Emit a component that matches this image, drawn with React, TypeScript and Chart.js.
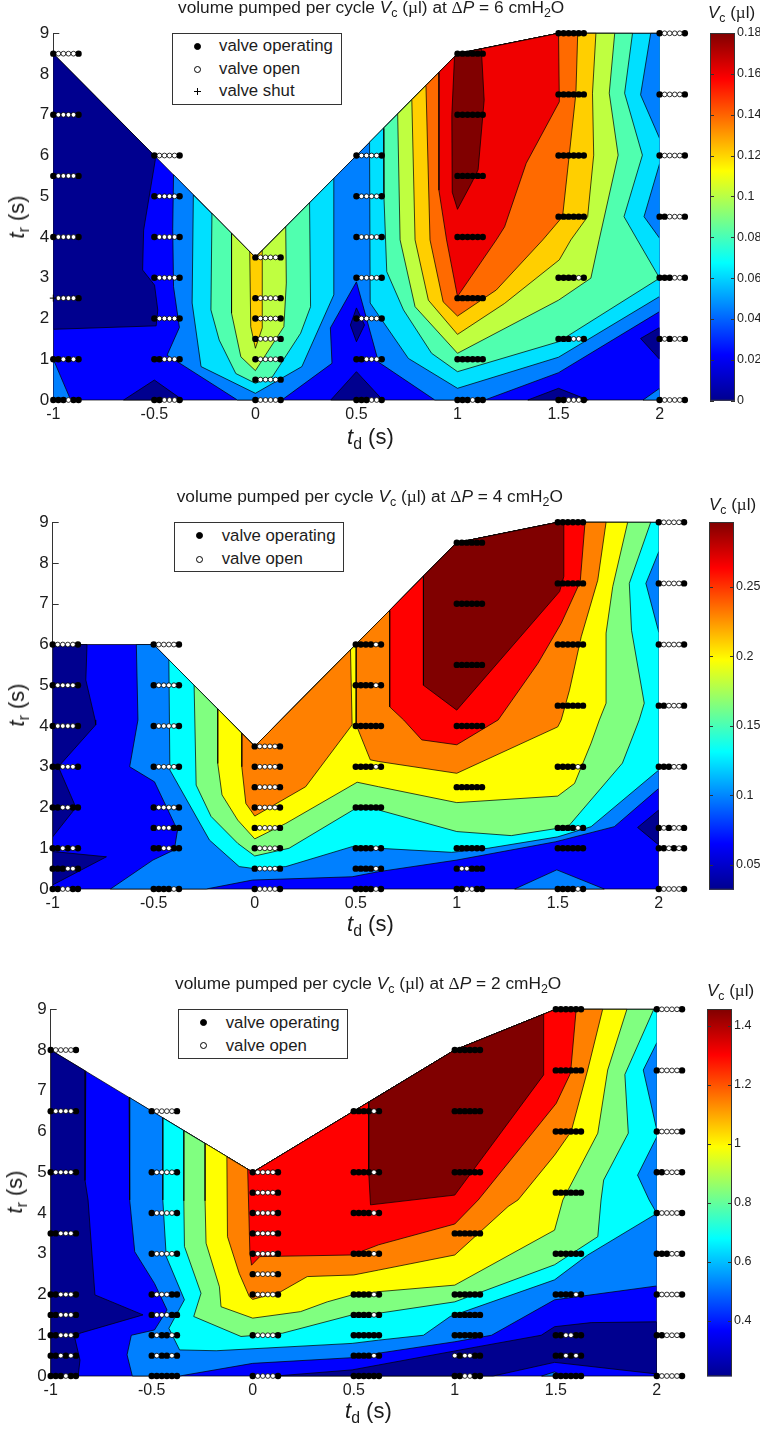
import React, { useEffect, useRef } from "react";
import { Chart, registerables } from "chart.js";

Chart.register(...registerables);

type Pt = [number, number];
type Region = { band: number; points: Pt[] };
type Valve = [number, number, string];

const xTicks = [-1, -0.5, 0, 0.5, 1, 1.5, 2];
const yTicks = [0, 1, 2, 3, 4, 5, 6, 7, 8, 9];
const pointOffset = 0.025;

/* ---------- contour bands, dP = 6 ---------- */
const bands6 = ["#00008f", "#0000ff", "#0080ff", "#00e0ff", "#50ffaf", "#bfff40", "#ffcf00", "#ff6a00", "#f00000", "#800000"];
const regions6: Region[] = [
  { band: 1, points: [[-1, 8.5], [-0.5, 6], [0, 3.5], [0.5, 6], [1, 8.5], [1.5, 9], [2, 9], [2, 0], [-1, 0]] },
  { band: 0, points: [[-1, 8.5], [-0.5, 6], [-0.495, 5.9], [-0.553, 4.17], [-0.558, 3.19], [-0.499, 2.82], [-0.483, 2.21], [-0.491, 1.82], [-1, 1.735]] },
  { band: 0, points: [[-0.652, 0], [-0.5, 0.49], [-0.36, 0]] },
  { band: 0, points: [[0.373, 0], [0.5, 0.695], [0.63, 0]] },
  { band: 0, points: [[1.348, 0], [1.5, 0.287], [1.647, 0]] },
  { band: 0, points: [[0.5, 2.26], [0.47, 1.84], [0.5, 1.43], [0.54, 1.84]] },
  { band: 0, points: [[2, 1.78], [1.906, 1.51], [2, 1]] },
  { band: 2, points: [[-1, 1], [-0.914, 0], [-1, 0]] },
  { band: 2, points: [[1.918, 0], [2, 0.287], [2, 0]] },
  { band: 2, points: [[-0.405, 5.53], [-0.409, 4.2], [-0.405, 2.78], [-0.376, 1.78], [-0.437, 1.1], [-0.089, 0], [0.131, 0], [0.379, 0.9], [0.371, 1.77], [0.5, 2.9], [0.609, 0.93], [0.888, 0], [1.135, 0], [1.5, 0.67], [2, 2.17], [2, 9], [1.5, 9], [1, 8.5], [0.5, 6], [0, 3.5]] },
  { band: 3, points: [[-0.307, 5.03], [-0.313, 2.38], [-0.269, 0.82], [0, 0.164], [0.23, 0.82], [0.388, 2.58], [0.388, 5.44], [0, 3.5]] },
  { band: 3, points: [[0.565, 6.33], [0.568, 2.38], [0.757, 1.02], [1, 0.287], [1.5, 1.05], [2, 2.54], [2, 9], [1.5, 9], [1, 8.5]] },
  { band: 2, points: [[1.956, 9], [1.906, 7.49], [2, 6.42], [2, 9]] },
  { band: 2, points: [[2, 5.8], [1.923, 4.5], [2, 3.97]] },
  { band: 4, points: [[-0.215, 4.58], [-0.22, 2.21], [-0.179, 1.47], [-0.097, 0.65], [0, 0.41], [0.084, 0.57], [0.224, 1.64], [0.273, 2.29], [0.268, 4.84], [0, 3.5]] },
  { band: 4, points: [[0.634, 6.67], [0.636, 5], [0.65, 3.15], [0.733, 2.21], [0.872, 1.146], [1, 0.695], [1.5, 1.43], [2, 2.99], [1.89, 3.93], [1.824, 4.5], [1.915, 6.01], [1.827, 7.53], [1.866, 9], [1.5, 9], [1, 8.5]] },
  { band: 5, points: [[-0.118, 4.09], [-0.118, 2.13], [-0.072, 1.06], [0, 0.72], [0.141, 1.8], [0.153, 2.87], [0.15, 4.25], [0, 3.5]] },
  { band: 5, points: [[0.704, 7.02], [0.716, 3.93], [0.79, 2.29], [1, 1.146], [1.5, 2.45], [1.66, 2.99], [1.701, 3.93], [1.795, 6.01], [1.751, 7.53], [1.778, 9], [1.5, 9], [1, 8.5]] },
  { band: 6, points: [[-0.028, 3.64], [-0.023, 1.8], [0, 1.27], [0.034, 1.77], [0.034, 3.67], [0, 3.5]] },
  { band: 6, points: [[0.774, 7.37], [0.79, 3.93], [0.856, 2.45], [1, 1.61], [1.233, 2.37], [1.504, 3.44], [1.561, 3.93], [1.644, 4.5], [1.674, 6.01], [1.668, 7.53], [1.685, 9], [1.5, 9], [1, 8.5]] },
  { band: 7, points: [[0.844, 7.72], [0.864, 3.93], [0.929, 2.41], [1, 2.06], [1.192, 2.7], [1.422, 3.93], [1.52, 4.5], [1.553, 6.01], [1.586, 7.53], [1.595, 9], [1.5, 9], [1, 8.5]] },
  { band: 8, points: [[0.908, 8.04], [0.908, 5.15], [0.946, 3.93], [1, 2.54], [1.192, 3.93], [1.233, 4.25], [1.34, 5.81], [1.504, 7.32], [1.5, 9], [1, 8.5]] },
  { band: 9, points: [[0.985, 8.4], [1, 8.5], [1.118, 8.62], [1.132, 7.36], [1.102, 5.65], [1.069, 5.32], [1, 4.68], [0.974, 5.1], [0.972, 7]] },
];

/* ---------- contour bands, dP = 4 ---------- */
const bands4 = ["#00008f", "#0000ff", "#0080ff", "#00ffff", "#80ff80", "#ffff00", "#ff8000", "#ff0000", "#800000"];
const regions4: Region[] = [
  { band: 1, points: [[-1, 6], [-0.5, 6], [0, 3.5], [0.5, 6], [1, 8.5], [1.5, 9], [2, 9], [2, 0], [-1, 0]] },
  { band: 0, points: [[-1, 6], [-0.83, 6], [-0.836, 5.13], [-0.79, 4.15], [-0.787, 4.03], [-0.972, 3], [-0.885, 2], [-1, 1.28]] },
  { band: 0, points: [[-1, 0.92], [-0.734, 0.79], [-1, 0.1]] },
  { band: 0, points: [[1.895, 1.51], [2, 1.94], [2, 1.08]] },
  { band: 2, points: [[1.287, 0], [1.495, 0.47], [1.73, 0]] },
  { band: 2, points: [[-0.586, 6], [-0.578, 4.15], [-0.619, 3], [-0.496, 2.63], [-0.398, 1.61], [-0.382, 1.45], [-0.398, 0.96], [-0.504, 0.71], [-0.714, 0], [-0.24, 0], [-0.011, 0.22], [0.482, 0.3], [0.613, 0.425], [1, 0.71], [1.49, 1.16], [1.78, 1.53], [2, 2.47], [2, 9], [1.5, 9], [1, 8.5], [0.5, 6], [0, 3.5], [-0.5, 6]] },
  { band: 3, points: [[-0.425, 5.625], [-0.42, 2.92], [-0.224, 1.2], [-0.077, 0.55], [0, 0.5], [0.154, 0.55], [0.482, 1.04], [0.613, 1], [0.975, 0.9], [1.155, 1], [1.5, 1.28], [1.665, 1.53], [2, 2.92], [2, 9], [1.5, 9], [1, 8.5], [0.5, 6], [0, 3.5]] },
  { band: 2, points: [[2, 8.28], [1.936, 7.5], [2, 6.3]] },
  { band: 4, points: [[-0.3, 5], [-0.29, 2.55], [-0.216, 1.78], [-0.084, 1.12], [0, 0.81], [0.17, 1], [0.507, 2], [0.613, 1.94], [1, 1.41], [1.27, 1.31], [1.5, 1.49], [1.558, 1.57], [1.82, 3.09], [1.903, 4.15], [1.928, 4.56], [1.865, 6.35], [1.854, 7.5], [1.96, 9], [1.5, 9], [1, 8.5], [0.5, 6], [0, 3.5]] },
  { band: 5, points: [[-0.183, 4.42], [-0.183, 3.08], [-0.162, 2.31], [-0.084, 1.69], [0, 1.23], [0.154, 1.61], [0.507, 2.62], [0.613, 2.51], [1, 2.12], [1.5, 2.28], [1.583, 2.59], [1.665, 3.58], [1.706, 4.15], [1.739, 4.56], [1.739, 6.28], [1.772, 7.42], [1.846, 9], [1.5, 9], [1, 8.5], [0.5, 6], [0, 3.5]] },
  { band: 6, points: [[-0.064, 3.82], [-0.064, 3], [-0.044, 2.1], [0, 1.79], [0.252, 2.51], [0.482, 4.03], [0.474, 5.87], [0, 3.5]] },
  { band: 6, points: [[0.502, 6.01], [0.502, 4.03], [0.572, 3.17], [0.613, 3.13], [1, 2.84], [1.5, 3.98], [1.517, 4.15], [1.558, 4.88], [1.616, 6.19], [1.698, 7.58], [1.739, 9], [1.5, 9], [1, 8.5]] },
  { band: 7, points: [[0.668, 6.84], [0.668, 4.47], [0.737, 4.15], [0.827, 3.66], [1, 3.54], [1.205, 4.15], [1.402, 5.54], [1.517, 6.52], [1.611, 7.54], [1.635, 9], [1.5, 9], [1, 8.5]] },
  { band: 8, points: [[0.835, 7.68], [0.835, 5], [1, 4.39], [1.509, 7.3], [1.53, 7.67], [1.53, 9], [1.5, 9], [1, 8.5]] },
];

/* ---------- contour bands, dP = 2 ---------- */
const bands2 = ["#00008f", "#0000ff", "#0080ff", "#00ffff", "#80ff80", "#ffff00", "#ff8000", "#ff0000", "#800000"];
const regions2: Region[] = [
  { band: 1, points: [[-1, 8], [-0.5, 6.5], [0, 5], [0.5, 6.5], [1, 8], [1.5, 9], [2, 9], [2, 0], [-1, 0]] },
  { band: 0, points: [[-1, 8], [-0.826, 7.48], [-0.83, 4.8], [-0.815, 4.32], [-0.781, 1.99], [-0.543, 1.5], [-0.855, 1.05], [-0.88, 0.92], [-0.855, 0.39], [-0.864, 0], [-1, 0]] },
  { band: 0, points: [[0.114, 0], [0.492, 0.15], [0.623, 0.27], [1.116, 0.72], [1.428, 1], [1.494, 1.21], [1.675, 1.31], [2, 1.33], [2, 0.05], [1.494, 0.335], [1.19, 0]] },
  { band: 2, points: [[1.43, 0], [1.494, 0.1], [1.54, 0]] },
  { band: 2, points: [[-0.612, 6.84], [-0.609, 4.32], [-0.584, 3.05], [-0.486, 2.27], [-0.424, 1.62], [-0.486, 1.13], [-0.601, 1], [-0.622, 0.52], [-0.596, 0], [-0.362, 0], [0, 0.31], [0.492, 0.45], [0.623, 0.56], [1, 0.84], [1.182, 1], [1.494, 1.87], [2, 2.21], [2, 9], [1.5, 9], [1, 8], [0.5, 6.5], [0, 5]] },
  { band: 3, points: [[-0.445, 6.335], [-0.445, 4.32], [-0.428, 2.93], [-0.338, 1.87], [-0.415, 1.17], [-0.362, 0.64], [-0.181, 0.62], [0.492, 0.8], [0.623, 0.88], [0.845, 1], [0.977, 1.46], [1.494, 2.36], [1.658, 2.97], [2, 3.99], [2, 9], [1.5, 9], [1, 8], [0.5, 6.5], [0, 5]] },
  { band: 2, points: [[2, 8.18], [1.933, 7.51], [2, 6.04]] },
  { band: 2, points: [[2, 5.87], [1.905, 4.93], [1.962, 4.32], [2, 3.99]] },
  { band: 4, points: [[-0.341, 6.02], [-0.341, 4.3], [-0.338, 3.18], [-0.256, 2.03], [-0.292, 1.46], [-0.058, 0.97], [0.147, 1.05], [0.492, 1.5], [0.623, 1.54], [1, 1.82], [1.494, 2.73], [1.708, 3.42], [1.724, 4.32], [1.737, 4.81], [1.859, 5.96], [1.842, 7.4], [1.985, 9], [1.5, 9], [1, 8], [0.5, 6.5], [0, 5]] },
  { band: 5, points: [[-0.236, 5.71], [-0.236, 4.3], [-0.231, 3.26], [-0.165, 2.19], [-0.157, 1.7], [0, 1.42], [0.237, 1.58], [0.369, 1.82], [0.492, 1.99], [0.623, 2.07], [1, 2.23], [1.494, 3.58], [1.535, 4.32], [1.708, 5.96], [1.757, 7.51], [1.852, 9], [1.5, 9], [1, 8], [0.5, 6.5], [0, 5]] },
  { band: 6, points: [[-0.128, 5.38], [-0.125, 3.42], [-0.067, 2.52], [-0.017, 1.95], [0, 1.88], [0.139, 2.07], [0.27, 2.44], [0.5, 2.48], [0.623, 2.6], [1, 2.97], [1.264, 4.16], [1.313, 4.32], [1.494, 5.42], [1.576, 6], [1.658, 7.51], [1.732, 9], [1.5, 9], [1, 8], [0.5, 6.5], [0, 5]] },
  { band: 7, points: [[-0.025, 5.075], [-0.014, 3.01], [-0.006, 2.72], [0.035, 2.93], [0.492, 2.97], [0.623, 3.22], [1, 3.73], [1.116, 4.32], [1.33, 5.63], [1.502, 6.69], [1.573, 7.43], [1.601, 9], [1.5, 9], [1, 8], [0.5, 6.5], [0, 5]] },
  { band: 8, points: [[0.574, 6.72], [0.574, 5], [0.583, 4.2], [1, 4.44], [1.44, 7.39], [1.44, 8.88], [1, 8]] },
];

/* ---------- valve states at each (td, tr): 1 operating, 0 open, + shut ---------- */
const valves6: Valve[] = [
  [-1, 8.5, "100001"], [-1, 7, "100001"], [-1, 5.5, "100001"], [-1, 4, "100001"], [-1, 2.5, "+00001"], [-1, 1, "110101"], [-1, 0, "111011"],
  [-0.5, 6, "100001"], [-0.5, 5, "100001"], [-0.5, 4, "100001"], [-0.5, 3, "100001"], [-0.5, 2, "100001"], [-0.5, 1, "110001"], [-0.5, 0, "110001"],
  [0, 3.5, "100001"], [0, 2.5, "100001"], [0, 2, "100001"], [0, 1.5, "100001"], [0, 1, "100001"], [0, 0.5, "100001"], [0, 0, "100001"],
  [0.5, 6, "100001"], [0.5, 5, "100001"], [0.5, 4, "100001"], [0.5, 3, "100001"], [0.5, 2, "100001"], [0.5, 1, "110001"], [0.5, 0, "111001"],
  [1, 8.5, "111111"], [1, 7, "111111"], [1, 5.5, "111111"], [1, 4, "111111"], [1, 2.5, "111111"], [1, 1, "111111"], [1, 0, "111011"],
  [1.5, 9, "111111"], [1.5, 7.5, "111111"], [1.5, 6, "111111"], [1.5, 4.5, "111111"], [1.5, 3, "111101"], [1.5, 1.5, "111001"], [1.5, 0, "110001"],
  [2, 9, "100001"], [2, 7.5, "100001"], [2, 6, "100001"], [2, 4.5, "110001"], [2, 3, "111001"], [2, 1.5, "101001"], [2, 0, "100001"],
];
const valves4: Valve[] = [
  [-1, 6, "100001"], [-1, 5, "100001"], [-1, 4, "100001"], [-1, 3, "110001"], [-1, 2, "110011"], [-1, 1, "110101"], [-1, 0.5, "111001"], [-1, 0, "110011"],
  [-0.5, 6, "100001"], [-0.5, 5, "100001"], [-0.5, 4, "100001"], [-0.5, 3, "100001"], [-0.5, 2, "100001"], [-0.5, 1.5, "100011"], [-0.5, 1, "110011"], [-0.5, 0, "111101"],
  [0, 3.5, "100001"], [0, 3, "100001"], [0, 2.5, "100001"], [0, 2, "100001"], [0, 1.5, "100001"], [0, 1, "100001"], [0, 0.5, "100001"], [0, 0, "100001"],
  [0.5, 6, "111101"], [0.5, 5, "111101"], [0.5, 4, "111111"], [0.5, 3, "111101"], [0.5, 2, "111111"], [0.5, 1, "111101"], [0.5, 0.5, "111101"], [0.5, 0, "111101"],
  [1, 8.5, "111111"], [1, 7, "111111"], [1, 5.5, "111111"], [1, 4, "111111"], [1, 2.5, "111111"], [1, 1, "111111"], [1, 0.5, "100111"], [1, 0, "110011"],
  [1.5, 9, "111111"], [1.5, 7.5, "111111"], [1.5, 6, "111111"], [1.5, 4.5, "111111"], [1.5, 3, "111101"], [1.5, 1.5, "111101"], [1.5, 1, "111111"], [1.5, 0, "111101"],
  [2, 9, "100001"], [2, 7.5, "100001"], [2, 6, "100001"], [2, 4.5, "110001"], [2, 3, "111001"], [2, 1.5, "101001"], [2, 1, "110101"], [2, 0, "100001"],
];
const valves2: Valve[] = [
  [-1, 8, "100001"], [-1, 6.5, "100001"], [-1, 5, "100001"], [-1, 3.5, "110001"], [-1, 2, "110001"], [-1, 1.5, "110001"], [-1, 1, "110001"], [-1, 0.5, "110101"], [-1, 0, "111011"],
  [-0.5, 6.5, "100001"], [-0.5, 5, "100001"], [-0.5, 4, "100001"], [-0.5, 3, "100001"], [-0.5, 2, "100011"], [-0.5, 1.5, "100011"], [-0.5, 1, "101101"], [-0.5, 0.5, "101101"], [-0.5, 0, "111111"],
  [0, 5, "100001"], [0, 4.5, "100001"], [0, 4, "100001"], [0, 3.5, "100001"], [0, 3, "100001"], [0, 2.5, "100001"], [0, 2, "100001"], [0, 1, "100001"], [0, 0, "100001"],
  [0.5, 6.5, "111101"], [0.5, 5, "111101"], [0.5, 4, "111101"], [0.5, 3, "111101"], [0.5, 2, "111101"], [0.5, 1.5, "111101"], [0.5, 1, "111111"], [0.5, 0.5, "111101"], [0.5, 0, "111111"],
  [1, 8, "111111"], [1, 6.5, "111111"], [1, 5, "111111"], [1, 3.5, "111111"], [1, 2, "111111"], [1, 1.5, "111111"], [1, 1, "111111"], [1, 0.5, "010011"], [1, 0, "110011"],
  [1.5, 9, "111111"], [1.5, 7.5, "111111"], [1.5, 6, "111111"], [1.5, 4.5, "111111"], [1.5, 3, "111111"], [1.5, 2, "111101"], [1.5, 1, "110011"], [1.5, 0.5, "110101"], [1.5, 0, "111111"],
  [2, 9, "100001"], [2, 7.5, "100001"], [2, 6, "100001"], [2, 5, "110001"], [2, 4, "100001"], [2, 3, "111001"], [2, 2, "100001"], [2, 1, "110001"], [2, 0, "100001"],
];

/* ---------- colour bars ---------- */
const barRange6: Pt = [0, 0.18];
const barTicks6 = [0, 0.02, 0.04, 0.06, 0.08, 0.1, 0.12, 0.14, 0.16, 0.18];
const barRange4: Pt = [0.032, 0.2968];
const barTicks4 = [0.05, 0.1, 0.15, 0.2, 0.25];
const barRange2: Pt = [0.211, 1.457];
const barTicks2 = [0.4, 0.6, 0.8, 1, 1.2, 1.4];
const jetStops: [number, string][] = [[0, "#00008f"], [0.125, "#0000ff"], [0.375, "#00ffff"], [0.625, "#ffff00"], [0.875, "#ff0000"], [1, "#800000"]];

const FONT = '"Liberation Sans", Arial, sans-serif';
const TEXT = "#1c1c1c";
const X_EXTRA = 2.2;

const inwardTicks = {
  id: "inwardTicks",
  beforeDatasetsDraw(chart: any) {
    const { ctx, chartArea, scales } = chart;
    ctx.save();
    ctx.strokeStyle = "#333";
    ctx.lineWidth = 1;
    for (const v of yTicks) {
      const y = Math.round(scales.y.getPixelForValue(v)) + 0.5;
      ctx.beginPath();
      ctx.moveTo(chartArea.left, y);
      ctx.lineTo(chartArea.left + 6, y);
      ctx.stroke();
    }
    ctx.restore();
  },
};

const barFrame = {
  id: "barFrame",
  afterDatasetsDraw(chart: any) {
    const { ctx, chartArea: a, scales } = chart;
    ctx.save();
    ctx.strokeStyle = "#333";
    ctx.lineWidth = 1;
    ctx.strokeRect(a.left + 0.5, a.top + 0.5, a.right - a.left - 1, a.bottom - a.top - 1);
    for (const t of scales.y.ticks) {
      const y = Math.round(scales.y.getPixelForValue(t.value)) + 0.5;
      ctx.beginPath();
      ctx.moveTo(a.left, y);
      ctx.lineTo(a.left + 4, y);
      ctx.moveTo(a.right, y);
      ctx.lineTo(a.right - 4, y);
      ctx.stroke();
    }
    ctx.restore();
  },
};

function closed(points: Pt[]) {
  return [...points, points[0]].map(([x, y]) => ({ x, y }));
}

function valvePoints(rows: Valve[], state: string) {
  const out: { x: number; y: number }[] = [];
  for (const [td, tr, pattern] of rows) {
    pattern.split("").forEach((c, i) => {
      if (c === state) out.push({ x: td + i * pointOffset, y: tr });
    });
  }
  return out;
}

type Box = { left: number; right: number; top: number; bottom: number };

function ContourPlot({ regions, bands, valves, box, canvasTop }: { regions: Region[]; bands: string[]; valves: Valve[]; box: Box; canvasTop: number }) {
  const ref = useRef<HTMLCanvasElement>(null);
  const unit = (box.right - box.left) / 3;
  const plotRight = box.right + unit * (X_EXTRA - 2);
  const width = Math.ceil(plotRight) + 2;
  const below = 30;
  const height = Math.ceil(box.bottom + below - canvasTop);
  useEffect(() => {
    const polygonSets = regions.map((r, i) => ({
      data: closed(r.points),
      showLine: true,
      fill: "shape",
      tension: 0,
      backgroundColor: bands[r.band],
      borderColor: "rgba(0,0,0,0.8)",
      borderWidth: 0.9,
      pointRadius: 0,
      order: -i,
      clip: { left: -0.3, right: -(plotRight - box.right) - 0.3, top: 1, bottom: 1 },
    }));
    const markerSets = [
      { data: valvePoints(valves, "1"), backgroundColor: "#000", borderColor: "#000", borderWidth: 0, pointRadius: 3.2, pointStyle: "circle", order: -1001 },
      { data: valvePoints(valves, "0"), backgroundColor: "#fff", borderColor: "#000", borderWidth: 0.8, pointRadius: 2.4, pointStyle: "circle", order: -1002 },
      { data: valvePoints(valves, "+"), backgroundColor: "#000", borderColor: "#000", borderWidth: 1, pointRadius: 3.5, pointStyle: "cross", order: -1003 },
    ].map((d) => ({ ...d, showLine: false, clip: false, pointBorderWidth: d.borderWidth }));
    const chart = new Chart(ref.current as HTMLCanvasElement, {
      type: "scatter",
      data: { datasets: [...polygonSets, ...markerSets] as any },
      plugins: [inwardTicks],
      options: {
        animation: false,
        responsive: false,
        events: [],
        layout: { padding: { top: box.top - canvasTop, right: width - plotRight, left: 0, bottom: 0 } },
        plugins: { legend: { display: false }, tooltip: { enabled: false } },
        scales: {
          x: {
            type: "linear",
            min: -1,
            max: X_EXTRA,
            afterFit: (s: any) => { s.height = height - (box.bottom - canvasTop); },
            afterBuildTicks: (s: any) => { s.ticks = xTicks.map((value) => ({ value })); },
            grid: { display: false, drawTicks: false },
            border: { display: false },
            ticks: { autoSkip: false, maxRotation: 0, padding: 5, color: TEXT, font: { family: FONT, size: 16 }, callback: (v: any) => String(v) },
          },
          y: {
            type: "linear",
            min: 0,
            max: 9,
            afterFit: (s: any) => { s.width = box.left; },
            afterBuildTicks: (s: any) => { s.ticks = yTicks.map((value) => ({ value })); },
            grid: { display: false, drawTicks: false },
            border: { display: true, color: "#333", width: 1 },
            ticks: { autoSkip: false, padding: 4, color: TEXT, font: { family: FONT, size: 17 }, callback: (v: any) => String(v) },
          },
        },
      } as any,
    });
    return () => chart.destroy();
  }, []);
  return <canvas ref={ref} width={width} height={height} style={{ position: "absolute", left: 0, top: canvasTop, width, height }} />;
}

function ColorBar({ range, ticks, left, right, top, bottom }: { range: Pt; ticks: number[]; left: number; right: number; top: number; bottom: number }) {
  const ref = useRef<HTMLCanvasElement>(null);
  const pad = 10;
  const canvasLeft = left - 2;
  const width = 760 - canvasLeft;
  const height = Math.ceil(bottom - top) + 2 * pad;
  useEffect(() => {
    const chart = new Chart(ref.current as HTMLCanvasElement, {
      type: "bar",
      data: {
        labels: [""],
        datasets: [{
          data: [range as any],
          barPercentage: 1,
          categoryPercentage: 1,
          borderWidth: 0,
          backgroundColor: (c: any) => {
            const area = c.chart.chartArea;
            if (!area) return "#000";
            const g = c.chart.ctx.createLinearGradient(0, area.bottom, 0, area.top);
            for (const [p, col] of jetStops) g.addColorStop(p, col);
            return g;
          },
        }],
      },
      plugins: [barFrame],
      options: {
        animation: false,
        responsive: false,
        events: [],
        layout: { padding: { top: pad, bottom: height - pad - (bottom - top), left: 2, right: 0 } },
        plugins: { legend: { display: false }, tooltip: { enabled: false } },
        scales: {
          x: { display: false },
          y: {
            type: "linear",
            position: "right",
            min: range[0],
            max: range[1],
            afterFit: (s: any) => { s.width = width - 2 - (right - left); },
            afterBuildTicks: (s: any) => { s.ticks = ticks.map((value) => ({ value })); },
            grid: { display: false, drawTicks: false },
            border: { display: false },
            ticks: { autoSkip: false, padding: 2, color: TEXT, font: { family: FONT, size: 12.5 }, callback: (v: any) => String(v) },
          },
        },
      } as any,
    });
    return () => chart.destroy();
  }, []);
  return <canvas ref={ref} width={width} height={height} style={{ position: "absolute", left: canvasLeft, top: top - pad, width, height }} />;
}

const Sub = ({ children }: { children: React.ReactNode }) => (
  <span style={{ fontSize: "0.72em", position: "relative", top: "0.32em", lineHeight: 0 }}>{children}</span>
);
const Sym = ({ children }: { children: React.ReactNode }) => (
  <span style={{ fontFamily: '"Liberation Serif", serif' }}>{children}</span>
);

function place(left: number, cy: number, size: number): React.CSSProperties {
  return { position: "absolute", left, top: cy - 15, height: 30, lineHeight: "30px", fontSize: size, fontFamily: FONT, color: TEXT, whiteSpace: "nowrap" };
}

function Title({ left, cy, dp }: { left: number; cy: number; dp: number }) {
  return (
    <div style={place(left, cy, 17.3)}>
      volume pumped per cycle <i>V</i><Sub>c</Sub> (<Sym>µ</Sym>l) at <Sym>Δ</Sym><i>P</i> = {dp} cmH<Sub>2</Sub>O
    </div>
  );
}

function XLabel({ left, cy }: { left: number; cy: number }) {
  return <div style={place(left, cy, 22)}><i>t</i><Sub>d</Sub> (s)</div>;
}

function YLabel({ cx, cy }: { cx: number; cy: number }) {
  return (
    <div style={{ position: "absolute", left: cx, top: cy, transform: "translate(-50%,-50%) rotate(-90deg)", fontSize: 22, fontFamily: FONT, color: TEXT, whiteSpace: "nowrap", lineHeight: "30px" }}>
      <i>t</i><Sub>r</Sub> (s)
    </div>
  );
}

function BarLabel({ left, cy }: { left: number; cy: number }) {
  return <div style={place(left, cy, 17)}><i>V</i><Sub>c</Sub> (<Sym>µ</Sym>l)</div>;
}

const legendFull = ["valve operating", "valve open", "valve shut"];
const legendTwo = ["valve operating", "valve open"];

function Legend({ items, left, top, width, height, rowYs, markerX, textX }: { items: string[]; left: number; top: number; width: number; height: number; rowYs: number[]; markerX: number; textX: number }) {
  return (
    <div style={{ position: "absolute", left, top, width, height, boxSizing: "border-box", border: "1px solid #333", background: "#fff" }}>
      {items.map((t, i) => {
        const cy = rowYs[i] - top - 1;
        const mx = markerX - left - 1;
        let mark: React.ReactNode;
        if (t === "valve shut") {
          mark = (
            <>
              <span style={{ position: "absolute", left: mx - 3.5, top: cy - 0.5, width: 7, height: 1, background: "#000" }} />
              <span style={{ position: "absolute", left: mx - 0.5, top: cy - 3.5, width: 1, height: 7, background: "#000" }} />
            </>
          );
        } else {
          const open = t === "valve open";
          mark = <span style={{ position: "absolute", left: mx - 3.5, top: cy - 3.5, width: 7, height: 7, boxSizing: "border-box", borderRadius: "50%", background: open ? "#fff" : "#000", border: "1px solid #000" }} />;
        }
        return (
          <React.Fragment key={t}>
            {mark}
            <span style={{ position: "absolute", left: textX - left - 1, top: cy - 12, height: 24, lineHeight: "24px", fontSize: 16.8, fontFamily: FONT, color: TEXT, whiteSpace: "nowrap" }}>{t}</span>
          </React.Fragment>
        );
      })}
    </div>
  );
}

export default function App() {
  return (
    <div style={{ position: "absolute", left: 0, top: 0, width: 760, height: 1429, background: "#fff", overflow: "hidden" }}>
      <ContourPlot regions={regions6} bands={bands6} valves={valves6} box={{ left: 53.3, right: 662.3, top: 33.3, bottom: 400 }} canvasTop={0} />
      <ColorBar range={barRange6} ticks={barTicks6} left={710} right={735} top={33.3} bottom={401} />
      <Title left={178} cy={7} dp={6} />
      <XLabel left={347} cy={437} />
      <YLabel cx={17} cy={217} />
      <BarLabel left={708} cy={13} />
      <Legend items={legendFull} left={171.5} top={32.5} width={170} height={72} rowYs={[46, 69, 91]} markerX={197} textX={219} />

      <ContourPlot regions={regions4} bands={bands4} valves={valves4} box={{ left: 52.7, right: 661.3, top: 522.3, bottom: 889 }} canvasTop={490} />
      <ColorBar range={barRange4} ticks={barTicks4} left={708.7} right={734} top={522.3} bottom={890} />
      <Title left={176.7} cy={496} dp={4} />
      <XLabel left={347} cy={924} />
      <YLabel cx={17} cy={705} />
      <BarLabel left={709} cy={505} />
      <Legend items={legendTwo} left={174.3} top={522.3} width={170} height={50} rowYs={[535.7, 559.3]} markerX={200} textX={221.7} />

      <ContourPlot regions={regions2} bands={bands2} valves={valves2} box={{ left: 50.7, right: 659.3, top: 1009.3, bottom: 1376 }} canvasTop={975} />
      <ColorBar range={barRange2} ticks={barTicks2} left={707} right={732} top={1009.3} bottom={1376.7} />
      <Title left={175} cy={983} dp={2} />
      <XLabel left={345} cy={1411} />
      <YLabel cx={15} cy={1192} />
      <BarLabel left={707} cy={991} />
      <Legend items={legendTwo} left={177.7} top={1009.3} width={170.5} height={50} rowYs={[1022.7, 1046]} markerX={204} textX={225.7} />
    </div>
  );
}
